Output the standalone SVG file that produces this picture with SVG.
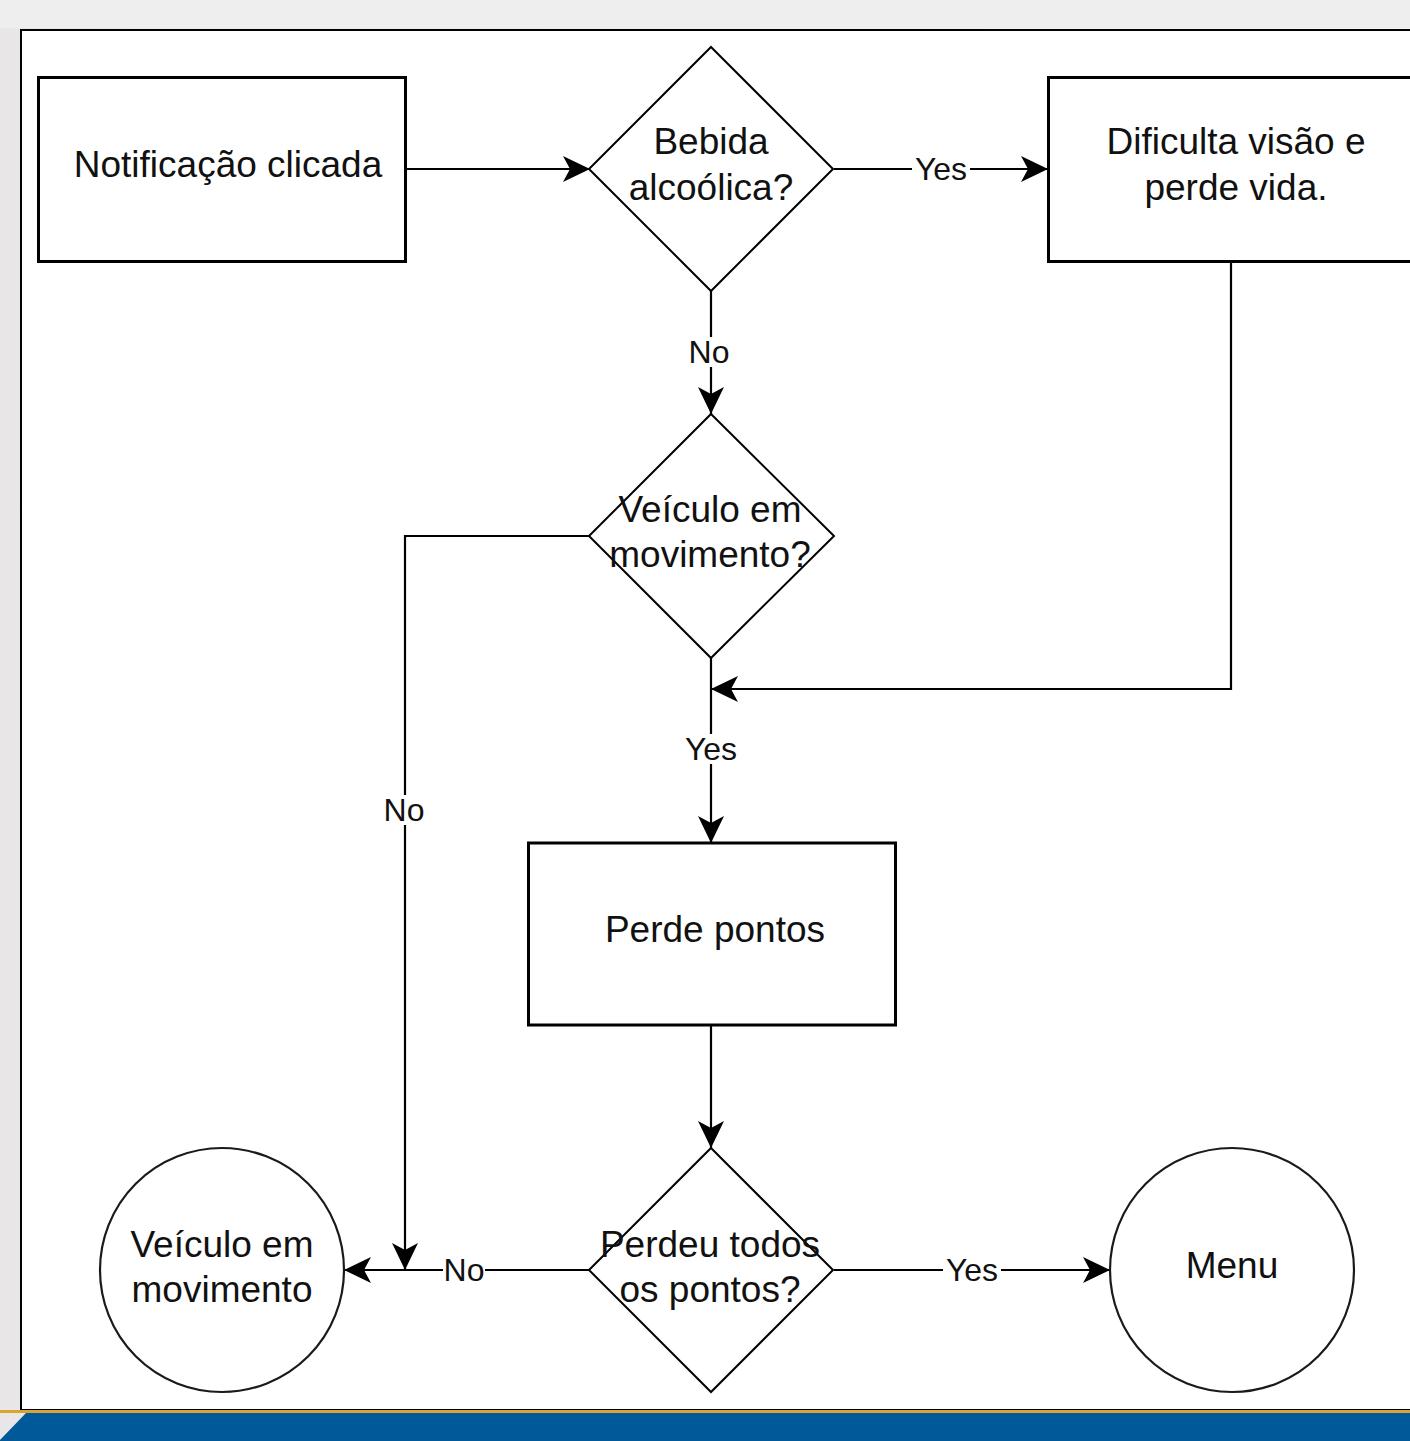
<svg xmlns="http://www.w3.org/2000/svg" width="1410" height="1441" viewBox="0 0 1410 1441">
  <style>
    .node { fill: #ffffff; stroke: #000000; }
    .box { stroke-width: 3; }
    .dia { stroke-width: 2; }
    .circ { stroke-width: 2.2; stroke: #1a1a1a; }
    .txt { font-family: "Liberation Sans", Arial, sans-serif; font-size: 37px; fill: #111111; text-anchor: middle; }
    .edge { fill: none; stroke: #000000; stroke-width: 2.2; marker-end: url(#arrow); }
    .lbl { font-family: "Liberation Sans", Arial, sans-serif; font-size: 32px; fill: #111111; text-anchor: middle; }
    .lblbg { fill: #ffffff; }
  </style>
  <defs>
    <marker id="arrow" viewBox="0 0 28 28" refX="27" refY="14" markerWidth="28" markerHeight="28" markerUnits="userSpaceOnUse" orient="auto">
      <path d="M27,14 L0,1 L7,14 L0,27 Z" fill="#000000"/>
    </marker>
    <linearGradient id="shade" x1="0" y1="0" x2="1" y2="0">
      <stop offset="0" stop-color="#e8e6e6"/>
      <stop offset="1" stop-color="#f3f3f3"/>
    </linearGradient>
  </defs>

  <!-- page background and canvas frame -->
  <rect x="0" y="0" width="1410" height="1441" fill="url(#shade)"/>
  <rect x="0" y="0" width="1410" height="28" fill="#eeeeee"/>
  <rect x="21" y="30" width="1400" height="1380" fill="#ffffff" stroke="#000000" stroke-width="2"/>

  <!-- footer bar -->
  <rect x="0" y="1410" width="1410" height="3" fill="#d9a532"/>
  <polygon points="26,1413 1410,1413 1410,1441 0,1441 0,1440" fill="#005a9a"/>

  <!-- connectors -->
  <g id="connectors">
    <path class="edge" d="M405,169 H590"/>
    <path class="edge" d="M834,169 H1048"/>
    <path class="edge" d="M711,291 V414"/>
    <path class="edge" d="M590,536 H405 V1270"/>
    <path class="edge" d="M711,658 V843"/>
    <path class="edge" d="M1231,261 V689 H711"/>
    <path class="edge" d="M711,1025 V1148"/>
    <path class="edge" d="M590,1270 H344"/>
    <path class="edge" d="M834,1270 H1110"/>

    <rect class="lblbg" x="912" y="154" width="58" height="30"/>
    <text class="lbl" x="941" y="180">Yes</text>
    <rect class="lblbg" x="689" y="337" width="42" height="30"/>
    <text class="lbl" x="709" y="363">No</text>
    <rect class="lblbg" x="682" y="734" width="58" height="30"/>
    <text class="lbl" x="711" y="760">Yes</text>
    <rect class="lblbg" x="383" y="795" width="42" height="30"/>
    <text class="lbl" x="404" y="821">No</text>
    <rect class="lblbg" x="443" y="1255" width="42" height="30"/>
    <text class="lbl" x="464" y="1281">No</text>
    <rect class="lblbg" x="943" y="1255" width="58" height="30"/>
    <text class="lbl" x="972" y="1281">Yes</text>
  </g>

  <!-- nodes -->
  <g id="notificacao">
    <rect class="node box" x="38.5" y="77.5" width="367" height="184"/>
    <text class="txt" x="228" y="177">Notificação clicada</text>
  </g>

  <g id="bebida">
    <polygon class="node dia" points="711,47 833,169 711,291 589,169"/>
    <text class="txt" x="711" y="154">Bebida</text>
    <text class="txt" x="711" y="200">alcoólica?</text>
  </g>

  <g id="dificulta">
    <rect class="node box" x="1048.5" y="77.5" width="380" height="184"/>
    <text class="txt" x="1236" y="154">Dificulta visão e</text>
    <text class="txt" x="1236" y="200">perde vida.</text>
  </g>

  <g id="veiculo-decisao">
    <polygon class="node dia" points="711,414 834,536 711,658 589,536"/>
    <text class="txt" x="710" y="522">Veículo em</text>
    <text class="txt" x="710" y="567">movimento?</text>
  </g>

  <g id="perde-pontos">
    <rect class="node box" x="528.5" y="843" width="367" height="182"/>
    <text class="txt" x="715" y="942">Perde pontos</text>
  </g>

  <g id="perdeu-todos">
    <polygon class="node dia" points="711,1148 833,1270 711,1392 589,1270"/>
    <text class="txt" x="710" y="1257">Perdeu todos</text>
    <text class="txt" x="710" y="1302">os pontos?</text>
  </g>

  <g id="veiculo-estado">
    <circle class="node circ" cx="222" cy="1270" r="122"/>
    <text class="txt" x="222" y="1257">Veículo em</text>
    <text class="txt" x="222" y="1302">movimento</text>
  </g>

  <g id="menu">
    <circle class="node circ" cx="1232" cy="1270" r="122"/>
    <text class="txt" x="1232" y="1278">Menu</text>
  </g>
</svg>
